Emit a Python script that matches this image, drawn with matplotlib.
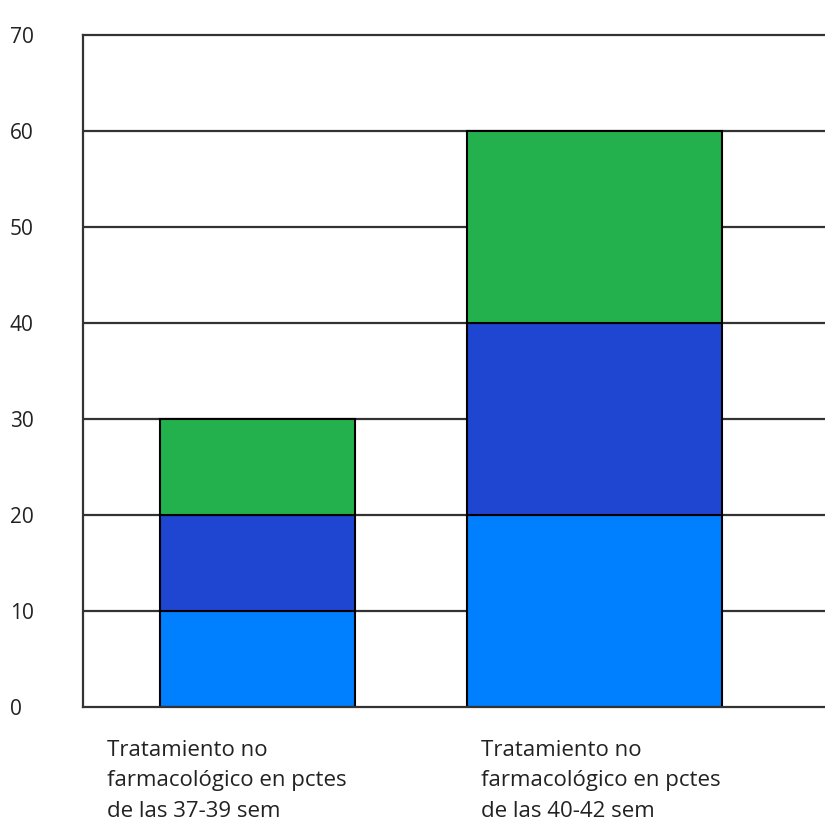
import numpy as np
import matplotlib.pyplot as plt

# data
categories = ["Tratamiento no\nfarmacológico en pctes\nde las 37-39 sem",
              "Tratamiento no\nfarmacológico en pctes\nde las 40-42 sem"]
bottom_seg = [10, 20]
middle_seg = [10, 20]
top_seg = [10, 20]
y_ticks = [0, 10, 20, 30, 40, 50, 60, 70]

seg_colors = ["#0080FF", "#1F46D0", "#22B14C"]
bar_widths = [0.578, 0.756]

plt.rcParams['font.family'] = ['Open Sans', 'DejaVu Sans']

fig = plt.figure(figsize=(8.25, 8.25), dpi=100)
ax = fig.add_axes([83 / 825, 118 / 825, 760 / 825, 672 / 825])

x = np.arange(len(categories))
ax.set_xlim(-0.517, -0.517 + 2.2 * 760 / 742)
ax.set_ylim(0, 70)

# gridlines
for v in y_ticks[1:-1]:
    ax.axhline(v, color="#333333", lw=1.6, zorder=1)

base = np.zeros(len(categories))
for seg, col in zip([bottom_seg, middle_seg, top_seg], seg_colors):
    ax.bar(x, seg, bottom=base, width=bar_widths, color=col,
           edgecolor="black", linewidth=1.5, zorder=2)
    base += np.array(seg)

ax.spines["right"].set_visible(False)
for s in ["left", "top", "bottom"]:
    ax.spines[s].set_color("#333333")
    ax.spines[s].set_linewidth(1.6)

ax.set_yticks(y_ticks)
ax.set_yticklabels([str(t) for t in y_ticks], fontsize=15, color="#222222")
for lab in ax.get_yticklabels():
    lab.set_horizontalalignment("left")
ax.tick_params(axis="y", length=0, pad=(83 - 10) * 0.72)
ax.set_xticks([])

label_x = [-0.517 + (107 - 83) / 742 * 2.2, -0.517 + (481 - 83) / 742 * 2.2]
for lx, txt in zip(label_x, categories):
    ax.text(lx, -3.4, txt, fontsize=16, color="#222222", ha="left", va="top",
            linespacing=1.6)

fig.savefig("out.png", dpi=100)
